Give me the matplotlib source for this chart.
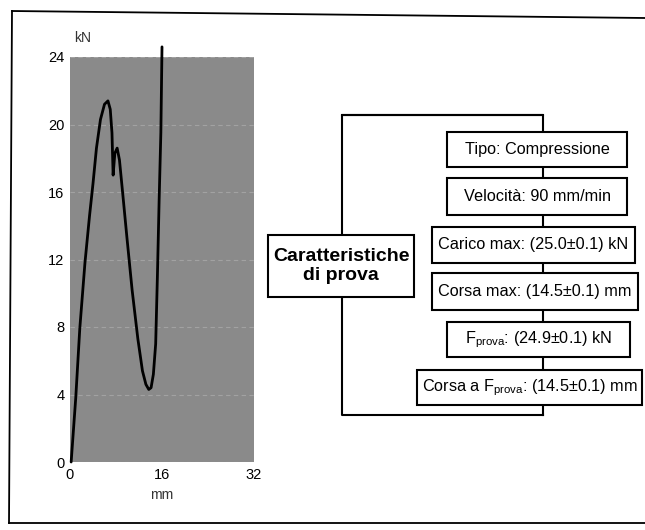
import matplotlib
matplotlib.use("Agg")
import matplotlib.pyplot as plt
from matplotlib.patches import Rectangle

plt.rcParams['font.family'] = ['Liberation Sans', 'DejaVu Sans']
plt.rcParams['mathtext.fontset'] = 'custom'
plt.rcParams['mathtext.rm'] = 'Liberation Sans'
plt.rcParams['mathtext.it'] = 'Liberation Sans:italic'
plt.rcParams['mathtext.bf'] = 'Liberation Sans:bold'

# ---- data ----
stroke_mm = [0.2, 1.0, 1.7, 2.6, 3.4, 4.0, 4.6, 5.3, 6.0, 6.6, 7.0, 7.3, 7.5,
             7.8, 8.2, 8.6, 9.2, 9.9, 10.8, 11.8, 12.6, 13.2, 13.7, 14.1,
             14.5, 14.9, 15.2, 15.5, 15.8, 16.0]
load_kN = [0.0, 3.8, 7.9, 11.8, 14.6, 16.5, 18.6, 20.3, 21.2, 21.4, 20.9, 19.5,
           17.0, 18.3, 18.6, 17.9, 15.8, 13.3, 10.2, 7.3, 5.4, 4.6, 4.3, 4.4,
           5.2, 7.0, 11.0, 15.5, 19.5, 24.6]
x_ticks = [0, 16, 32]
y_ticks = [0, 4, 8, 12, 16, 20, 24]
x_unit = "mm"
y_unit = "kN"

main_label = "Caratteristiche\ndi prova"
item_labels = [
    "Tipo: Compressione",
    "Velocità: 90 mm/min",
    "Carico max: (25.0±0.1) kN",
    "Corsa max: (14.5±0.1) mm",
    r"F$_{\mathrm{prova}}$: (24.9±0.1) kN",
    r"Corsa a F$_{\mathrm{prova}}$: (14.5±0.1) mm",
]

W, H = 645, 530
fig = plt.figure(figsize=(W / 100, H / 100), dpi=100)

# ---- chart ----
px_l, px_r, px_t, px_b = 70, 254, 57, 462
ax = fig.add_axes([px_l / W, 1 - px_b / H, (px_r - px_l) / W, (px_b - px_t) / H])
ax.set_facecolor('#8a8a8a')
ax.set_xlim(0, 32)
ax.set_ylim(0, 24)
ax.set_xticks(x_ticks)
ax.set_yticks(y_ticks)
ax.tick_params(length=0, labelsize=10.5, pad=4)
for s in ax.spines.values():
    s.set_visible(False)
ax.grid(axis='y', color='#a2a2a2', lw=0.8, ls=(0, (4, 3)))
ax.set_axisbelow(True)
ax.plot(stroke_mm, load_kN, color='black', lw=2.0, clip_on=False,
        solid_joinstyle='round', solid_capstyle='round')
ax.text(0.07, 1.03, y_unit, transform=ax.transAxes, fontsize=10,
        ha='center', va='bottom', color='#333333')
ax.text(0.5, -0.065, x_unit, transform=ax.transAxes, fontsize=10,
        ha='center', va='top', color='#333333')

# ---- diagram overlay in pixel coordinates ----
ov = fig.add_axes([0, 0, 1, 1], zorder=5)
ov.set_xlim(0, W)
ov.set_ylim(H, 0)
ov.axis('off')
ov.patch.set_alpha(0)

lw = 1.5
# page border (top, left, bottom)
ov.plot([12, 645], [11, 18], color='black', lw=1.3)
ov.plot([12, 9], [11, 523], color='black', lw=1.3)
ov.plot([9, 645], [523, 523], color='black', lw=1.3)

# bracket
ov.plot([342, 543, 543], [115, 115, 415], color='black', lw=lw)
ov.plot([543, 342, 342, 543], [415, 415, 115, 115], color='black', lw=lw)

def box(x0, y0, x1, y1, text, **kw):
    ov.add_patch(Rectangle((x0, y0), x1 - x0, y1 - y0, facecolor='white',
                           edgecolor='black', lw=lw, zorder=3))
    ov.text((x0 + x1) / 2, (y0 + y1) / 2, text, ha='center', va='center',
            zorder=4, **kw)

box(268, 235, 414, 297, main_label, fontsize=14, fontweight='bold',
    linespacing=1.2)

item_boxes = [
    (447, 132, 627, 167),
    (447, 178, 627, 215),
    (432, 227, 635, 263),
    (432, 273, 638, 310),
    (447, 322, 630, 357),
    (417, 370, 642, 405),
]
for (x0, y0, x1, y1), lab in zip(item_boxes, item_labels):
    box(x0, y0, x1, y1, lab, fontsize=11.7)

fig.savefig("out.png", dpi=100, facecolor='white')
